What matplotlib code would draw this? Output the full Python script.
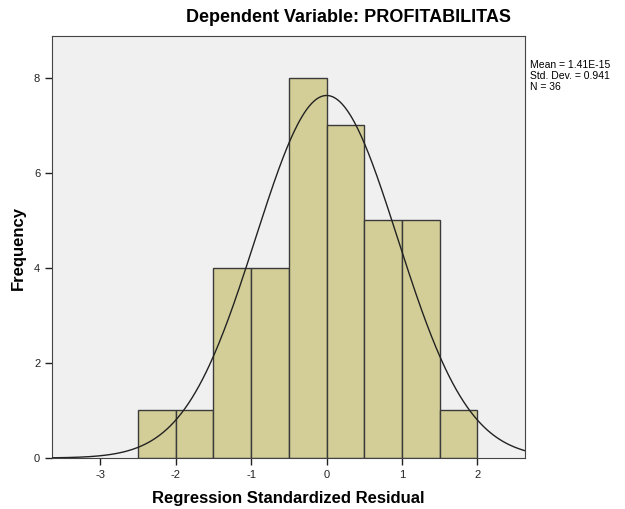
import matplotlib.pyplot as plt
import numpy as np

plt.rcParams['font.family'] = ['Liberation Sans', 'DejaVu Sans']
plt.rcParams['axes.unicode_minus'] = False

bin_edges = [-2.5, -2.0, -1.5, -1.0, -0.5, 0.0, 0.5, 1.0, 1.5, 2.0]
counts = [1, 1, 4, 4, 8, 7, 5, 5, 1]
mean = 1.41e-15
std = 0.941
n = 36

fig = plt.figure(figsize=(6.25, 5.09), dpi=100)
ax = fig.add_axes([0.0832, 0.1002, 0.7568, 0.8288])
ax.set_facecolor("#F0F0F0")

widths = np.diff(bin_edges)
ax.bar(bin_edges[:-1], counts, width=widths, align="edge",
       color="#D3CE98", edgecolor="#3a3a3a", linewidth=1.0, zorder=2)

xs = np.linspace(-3.64, 2.63, 400)
ys = n * 0.5 * np.exp(-0.5 * ((xs - mean) / std) ** 2) / (std * np.sqrt(2 * np.pi))
ax.plot(xs, ys, color="#222222", linewidth=1.0, zorder=3)

ax.set_xlim(-3.64, 2.63)
ax.set_ylim(0, 8.88)
ax.set_xticks([-3, -2, -1, 0, 1, 2])
ax.set_yticks([0, 2, 4, 6, 8])
ax.tick_params(labelsize=8, colors="#222222", length=5, width=1)
for s in ax.spines.values():
    s.set_color("#444444")

ax.set_xlabel("Regression Standardized Residual", fontsize=12, fontweight="bold", labelpad=8)
fig.text(0.029, 0.513, "Frequency", fontsize=12, fontweight="bold",
         rotation=90, ha="center", va="center")
fig.text(0.557, 0.965, "Dependent Variable: PROFITABILITAS", fontsize=13,
         fontweight="bold", ha="center", va="center")
fig.text(0.848, 0.882, "Mean = 1.41E-15\nStd. Dev. = 0.941\nN = 36", fontsize=7.5,
         ha="left", va="top", linespacing=1.1)

fig.savefig("out.png", dpi=100)
